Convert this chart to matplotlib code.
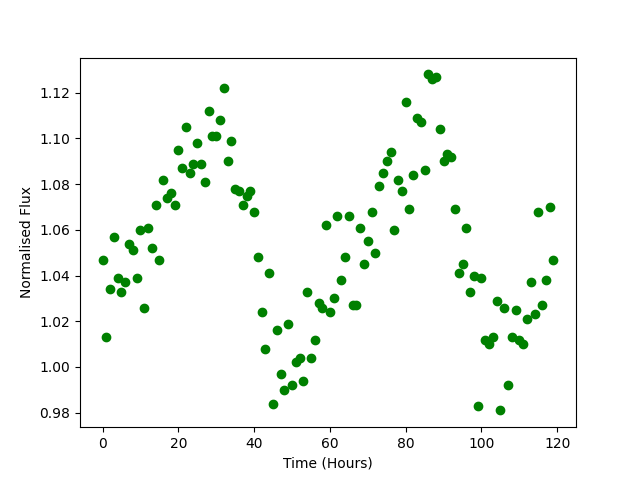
import numpy as np
import matplotlib.pyplot as plt

# Tiempo en horas (una medida por hora)
hours = np.arange(0, 120)

# Flujo normalizado
flux = [
    1.047, 1.013, 1.034, 1.057, 1.039, 1.033, 1.037, 1.054, 1.051, 1.039,
    1.060, 1.026, 1.061, 1.052, 1.071, 1.047, 1.082, 1.074, 1.076, 1.071,
    1.095, 1.087, 1.105, 1.085, 1.089, 1.098, 1.089, 1.081, 1.112, 1.101,
    1.101, 1.108, 1.122, 1.090, 1.099, 1.078, 1.077, 1.071, 1.075, 1.077,
    1.068, 1.048, 1.024, 1.008, 1.041, 0.984, 1.016, 0.997, 0.990, 1.019,
    0.992, 1.002, 1.004, 0.994, 1.033, 1.004, 1.012, 1.028, 1.026, 1.062,
    1.024, 1.030, 1.066, 1.038, 1.048, 1.066, 1.027, 1.027, 1.061, 1.045,
    1.055, 1.068, 1.050, 1.079, 1.085, 1.090, 1.094, 1.060, 1.082, 1.077,
    1.116, 1.069, 1.084, 1.109, 1.107, 1.086, 1.128, 1.126, 1.127, 1.104,
    1.090, 1.093, 1.092, 1.069, 1.041, 1.045, 1.061, 1.033, 1.040, 0.983,
    1.039, 1.012, 1.010, 1.013, 1.029, 0.981, 1.026, 0.992, 1.013, 1.025,
    1.012, 1.010, 1.021, 1.037, 1.023, 1.068, 1.027, 1.038, 1.070, 1.047,
]

fig, ax = plt.subplots(figsize=(6.4, 4.8), dpi=100)
ax.plot(hours, flux, 'o', color='green')
ax.set_xlabel('Time (Hours)')
ax.set_ylabel('Normalised Flux')

fig.savefig('out.png')
